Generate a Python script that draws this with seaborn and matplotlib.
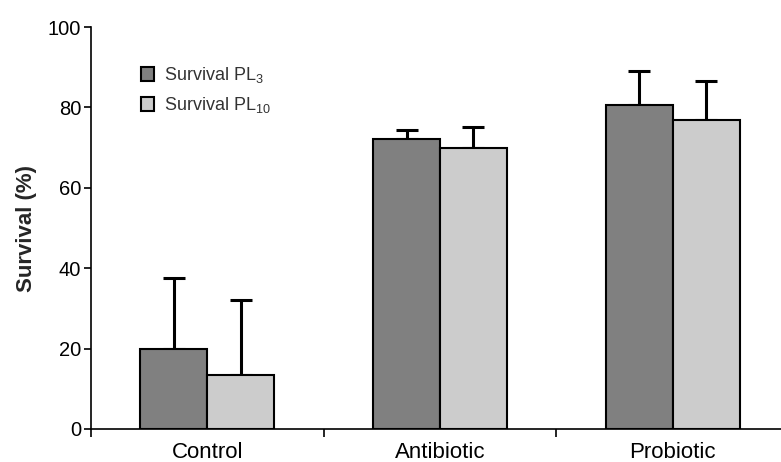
import numpy as np
import pandas as pd
import matplotlib
matplotlib.use("Agg")
import matplotlib.pyplot as plt
import seaborn as sns

groups = ["Control", "Antibiotic", "Probiotic"]
survival_pl3 = [20.0, 72.1, 80.6]
survival_pl10 = [13.5, 69.9, 76.9]
sd_pl3 = [17.5, 2.3, 8.5]
sd_pl10 = [18.7, 5.2, 9.7]
series = ["Survival PL$_3$", "Survival PL$_{10}$"]


def main():
    df = pd.DataFrame({
        "group": groups * 2,
        "stage": [series[0]] * 3 + [series[1]] * 3,
        "survival": survival_pl3 + survival_pl10,
        "sd": sd_pl3 + sd_pl10,
    })

    sns.set_theme(style="white")
    plt.rcParams["font.family"] = ["Liberation Sans", "DejaVu Sans"]
    plt.rcParams["mathtext.default"] = "regular"

    fig = plt.figure(figsize=(7.81, 4.62), dpi=100)
    ax = fig.add_axes([91 / 781, 33 / 462, 698 / 781, 402 / 462])

    sns.barplot(data=df, x="group", y="survival", hue="stage", order=groups,
                hue_order=series, palette=["#808080", "#cccccc"],
                width=0.575, errorbar=None, edgecolor="black", linewidth=1.5,
                ax=ax, zorder=3)

    # one-sided error bars on top of each bar
    for cont, s in zip(ax.containers, series):
        sub = df[df["stage"] == s].set_index("group").loc[groups]
        xs = [p.get_x() + p.get_width() / 2 for p in cont.patches]
        ax.errorbar(xs, sub["survival"], yerr=[np.zeros(len(xs)), sub["sd"]],
                    fmt="none", ecolor="black", elinewidth=2.2, capsize=8,
                    capthick=2.2, zorder=2)

    ax.set_xlim(-0.5, 2.5)
    ax.set_ylim(0, 100)
    ax.set_yticks([0, 20, 40, 60, 80, 100])
    ax.set_xticks([-0.5, 0.5, 1.5, 2.5], minor=False)
    ax.set_xticklabels([])
    ax.set_xticks([0, 1, 2], minor=True)
    ax.set_xticklabels(groups, minor=True)
    ax.tick_params(axis="x", which="major", direction="out", length=6, width=1.2,
                   bottom=True, color="black")
    ax.tick_params(axis="x", which="minor", length=0, labelsize=16, pad=9,
                   colors="black")
    ax.tick_params(axis="y", direction="out", length=5, width=1.2, left=True,
                   labelsize=14.5, pad=2, colors="black")

    for side in ["top", "right"]:
        ax.spines[side].set_visible(False)
    for side in ["left", "bottom"]:
        ax.spines[side].set_color("black")
        ax.spines[side].set_linewidth(1.2)

    ax.set_xlabel("")
    ax.set_ylabel("Survival (%)", fontsize=16, fontweight="bold", labelpad=8)

    ax.legend(loc="upper left", bbox_to_anchor=(0.048, 0.945), frameon=False,
              fontsize=13, handlelength=0.75, handleheight=0.75,
              handletextpad=0.55, labelspacing=0.55, labelcolor="#333333")

    fig.savefig("out.png", dpi=100)


if __name__ == "__main__":
    main()
